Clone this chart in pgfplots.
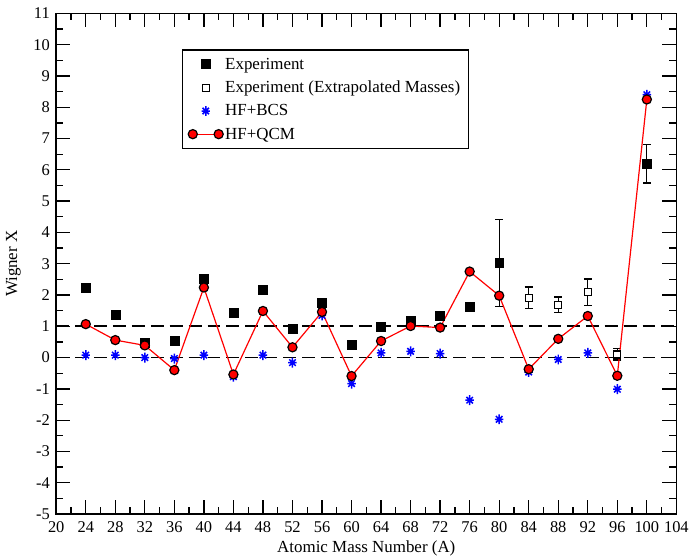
\documentclass[border=0pt]{standalone}
\usepackage{pgfplots}
\pgfplotsset{compat=1.18}
\usepackage{fontspec}
\setmainfont{Liberation Serif}
\pgfdeclareplotmark{ast8}{%
  \pgfpathmoveto{\pgfqpoint{0pt}{\pgfplotmarksize}}\pgfpathlineto{\pgfqpoint{0pt}{-\pgfplotmarksize}}%
  \pgfpathmoveto{\pgfqpoint{0.85\pgfplotmarksize}{0pt}}\pgfpathlineto{\pgfqpoint{-0.85\pgfplotmarksize}{0pt}}%
  \pgfpathmoveto{\pgfqpoint{0.65\pgfplotmarksize}{0.65\pgfplotmarksize}}\pgfpathlineto{\pgfqpoint{-0.65\pgfplotmarksize}{-0.65\pgfplotmarksize}}%
  \pgfpathmoveto{\pgfqpoint{-0.65\pgfplotmarksize}{0.65\pgfplotmarksize}}\pgfpathlineto{\pgfqpoint{0.65\pgfplotmarksize}{-0.65\pgfplotmarksize}}%
  \pgfusepathqstroke}
\pgfplotsset{qcm legend/.style={legend image code/.code={\draw[mark repeat=2,mark phase=1,##1] plot coordinates {(-4.5pt,0pt) (8.5pt,0pt) (21.5pt,0pt)};}}}
\begin{document}
\begin{tikzpicture}
\begin{axis}[
  scale only axis, width=623pt, height=503pt,
  xmin=20, xmax=104, ymin=-5, ymax=11,
  xtick={20,24,...,104}, ytick={-5,-4,...,11},
  minor x tick num=1, minor y tick num=1,
  tick align=inside, major tick length=14pt, minor tick length=7pt,
  axis line style={line width=1.5pt},
  every tick/.style={line width=1.3pt, black},
  tick label style={font=\fontsize{16.5}{16.5}\selectfont},
  label style={font=\fontsize{17}{17}\selectfont},
  /pgf/number format/assume math mode=true,
  xlabel={Atomic Mass Number (A)}, ylabel={Wigner X},
  yticklabel shift=3pt, ylabel shift=3pt, xticklabel shift=4pt, xlabel shift=1pt,
  ylabel style={inner ysep=6pt},
  yticklabel style={inner ysep=8pt},
  legend style={at={(axis cs:36.98,9.855)}, anchor=north west, draw=black, line width=1.3pt,
    font=\fontsize{17}{17}\selectfont, row sep=6.5pt, inner xsep=6pt, inner ysep=6pt},
  legend cell align=left,
]
\addplot[black, line width=1.7pt, dash pattern=on 13pt off 6pt, forget plot] coordinates {(20,0) (104,0)};
\addplot[black, line width=1.7pt, dash pattern=on 13pt off 6pt, forget plot] coordinates {(20,1) (104,1)};

% Experiment
\addplot[only marks, mark=square*, mark size=4.5pt, black] coordinates {
(24,2.22) (28,1.38) (32,0.48) (36,0.53) (40,2.52) (44,1.43) (48,2.18) (52,0.92)
(56,1.74) (60,0.42) (64,0.98) (68,1.19) (72,1.33) (76,1.63) (80,3.03) (100,6.2)};
\addlegendentry{Experiment}
\addplot[only marks, mark=square*, mark size=4.5pt, black, forget plot,
  error bars/.cd, y dir=both, y explicit,
  error bar style={line width=1.3pt, black},
  error mark options={rotate=90, mark size=4pt, line width=1.3pt, black}] coordinates {
(80,3.03) +- (0,1.39) (100,6.2) +- (0,0.62)};

% Experiment (extrapolated)
\addplot[only marks, mark=square*, mark size=3.5pt, black, mark options={fill=white, line width=1.1pt},
  error bars/.cd, y dir=both, y explicit,
  error bar style={line width=1.3pt, black},
  error mark options={rotate=90, mark size=4pt, line width=1.3pt, black}] coordinates {
(84,1.91) +- (0,0.35) (88,1.69) +- (0,0.25) (92,2.09) +- (0,0.42) (96,0.1) +- (0,0.18)};
\addlegendentry{Experiment (Extrapolated Masses)}

% HF+BCS
\addplot[only marks, mark=ast8, mark size=5pt, blue, line width=1.5pt] coordinates {
(24,0.08) (28,0.08) (32,0.0) (36,-0.03) (40,0.08) (44,-0.61) (48,0.08) (52,-0.16)
(56,1.35) (60,-0.83) (64,0.15) (68,0.2) (72,0.13) (76,-1.36) (80,-1.97) (84,-0.46)
(88,-0.06) (92,0.15) (96,-1.01) (100,8.4)};
\addlegendentry{HF+BCS}

% HF+QCM
\addplot[red, line width=1.2pt, mark=*, mark size=4.6pt,
  mark options={fill=red, draw=black, line width=1.2pt}, qcm legend] coordinates {
(24,1.07) (28,0.56) (32,0.39) (36,-0.4) (40,2.24) (44,-0.54) (48,1.49) (52,0.33)
(56,1.46) (60,-0.59) (64,0.53) (68,1.01) (72,0.96) (76,2.75) (80,1.98) (84,-0.37)
(88,0.6) (92,1.33) (96,-0.58) (100,8.25)};
\addlegendentry{HF+QCM}
\end{axis}
\end{tikzpicture}
\end{document}
